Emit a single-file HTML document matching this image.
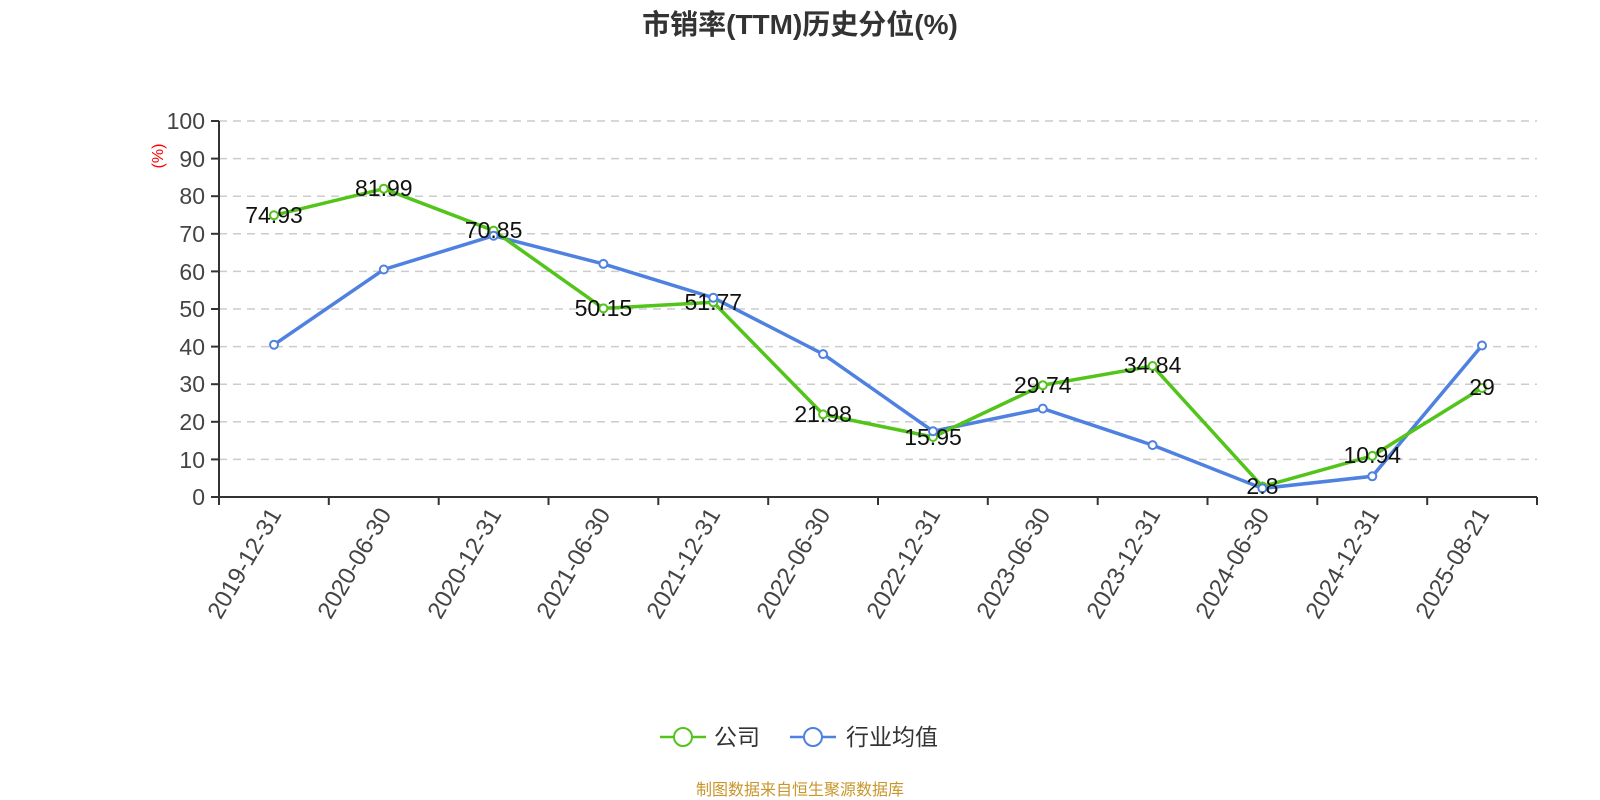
<!DOCTYPE html>
<html><head><meta charset="utf-8"><style>body{margin:0;background:#fff}svg{display:block}</style></head><body>
<svg width="1600" height="800" xmlns="http://www.w3.org/2000/svg" font-family="'Liberation Sans','Noto Sans CJK SC',sans-serif">
<text x="800" y="34" text-anchor="middle" font-size="28" font-weight="bold" fill="#333">市销率(TTM)历史分位(%)</text>
<g stroke="#ccc" stroke-width="1.5" stroke-dasharray="8,6">
<line x1="219" x2="1537" y1="121" y2="121"/><line x1="219" x2="1537" y1="158.6" y2="158.6"/><line x1="219" x2="1537" y1="196.2" y2="196.2"/><line x1="219" x2="1537" y1="233.8" y2="233.8"/><line x1="219" x2="1537" y1="271.4" y2="271.4"/><line x1="219" x2="1537" y1="309" y2="309"/><line x1="219" x2="1537" y1="346.6" y2="346.6"/><line x1="219" x2="1537" y1="384.2" y2="384.2"/><line x1="219" x2="1537" y1="421.8" y2="421.8"/><line x1="219" x2="1537" y1="459.4" y2="459.4"/>
</g>
<g stroke="#333" stroke-width="2">
<line x1="219" y1="121" x2="219" y2="497"/><line x1="219" y1="497" x2="1537" y2="497"/>
</g>
<g stroke="#333" stroke-width="2">
<line x1="211" x2="219" y1="121" y2="121"/><line x1="211" x2="219" y1="158.6" y2="158.6"/><line x1="211" x2="219" y1="196.2" y2="196.2"/><line x1="211" x2="219" y1="233.8" y2="233.8"/><line x1="211" x2="219" y1="271.4" y2="271.4"/><line x1="211" x2="219" y1="309" y2="309"/><line x1="211" x2="219" y1="346.6" y2="346.6"/><line x1="211" x2="219" y1="384.2" y2="384.2"/><line x1="211" x2="219" y1="421.8" y2="421.8"/><line x1="211" x2="219" y1="459.4" y2="459.4"/><line x1="211" x2="219" y1="497" y2="497"/>
</g>
<g font-size="23" fill="#444" text-anchor="end">
<text x="205" y="129">100</text><text x="205" y="167">90</text><text x="205" y="204">80</text><text x="205" y="242">70</text><text x="205" y="280">60</text><text x="205" y="317">50</text><text x="205" y="355">40</text><text x="205" y="392">30</text><text x="205" y="430">20</text><text x="205" y="468">10</text><text x="205" y="505">0</text>
</g>
<text transform="translate(163,156) rotate(-90)" text-anchor="middle" font-size="16" fill="#f00">(%)</text>
<g stroke="#333" stroke-width="2">
<line x1="219" x2="219" y1="497" y2="505"/><line x1="328.8" x2="328.8" y1="497" y2="505"/><line x1="438.7" x2="438.7" y1="497" y2="505"/><line x1="548.5" x2="548.5" y1="497" y2="505"/><line x1="658.3" x2="658.3" y1="497" y2="505"/><line x1="768.2" x2="768.2" y1="497" y2="505"/><line x1="878" x2="878" y1="497" y2="505"/><line x1="987.8" x2="987.8" y1="497" y2="505"/><line x1="1097.7" x2="1097.7" y1="497" y2="505"/><line x1="1207.5" x2="1207.5" y1="497" y2="505"/><line x1="1317.3" x2="1317.3" y1="497" y2="505"/><line x1="1427.2" x2="1427.2" y1="497" y2="505"/><line x1="1537" x2="1537" y1="497" y2="505"/>
</g>
<g font-size="24" fill="#444" text-anchor="end">
<text transform="translate(282,514) rotate(-60)">2019-12-31</text>
<text transform="translate(392,514) rotate(-60)">2020-06-30</text>
<text transform="translate(502,514) rotate(-60)">2020-12-31</text>
<text transform="translate(611,514) rotate(-60)">2021-06-30</text>
<text transform="translate(721,514) rotate(-60)">2021-12-31</text>
<text transform="translate(831,514) rotate(-60)">2022-06-30</text>
<text transform="translate(941,514) rotate(-60)">2022-12-31</text>
<text transform="translate(1051,514) rotate(-60)">2023-06-30</text>
<text transform="translate(1161,514) rotate(-60)">2023-12-31</text>
<text transform="translate(1270,514) rotate(-60)">2024-06-30</text>
<text transform="translate(1380,514) rotate(-60)">2024-12-31</text>
<text transform="translate(1490,514) rotate(-60)">2025-08-21</text>
</g>
<polyline fill="none" stroke="#4f81e0" stroke-width="3.5" points="274,344.7 383.8,269.5 493.6,235.7 603.4,263.9 713.3,297.7 823.1,354.1 933,431.2 1042.8,408.6 1152.6,445.1 1262.4,488.4 1372.3,476.3 1482,345.5"/>
<polyline fill="none" stroke="#52c41a" stroke-width="3.5" points="274,215.3 383.8,188.7 493.6,230.6 603.4,308.4 713.3,302.3 823.1,414.4 933,437 1042.8,385.2 1152.6,366 1262.4,486.5 1372.3,455.9 1482,388"/>
<g fill="#fff" stroke="#52c41a" stroke-width="2">
<circle cx="274" cy="215.3" r="4"/><circle cx="383.8" cy="188.7" r="4"/><circle cx="493.6" cy="230.6" r="4"/><circle cx="603.4" cy="308.4" r="4"/><circle cx="713.3" cy="302.3" r="4"/><circle cx="823.1" cy="414.4" r="4"/><circle cx="933" cy="437" r="4"/><circle cx="1042.8" cy="385.2" r="4"/><circle cx="1152.6" cy="366" r="4"/><circle cx="1262.4" cy="486.5" r="4"/><circle cx="1372.3" cy="455.9" r="4"/><circle cx="1482" cy="388" r="4"/>
</g>
<g fill="#fff" stroke="#4f81e0" stroke-width="2">
<circle cx="274" cy="344.7" r="4"/><circle cx="383.8" cy="269.5" r="4"/><circle cx="493.6" cy="235.7" r="4"/><circle cx="603.4" cy="263.9" r="4"/><circle cx="713.3" cy="297.7" r="4"/><circle cx="823.1" cy="354.1" r="4"/><circle cx="933" cy="431.2" r="4"/><circle cx="1042.8" cy="408.6" r="4"/><circle cx="1152.6" cy="445.1" r="4"/><circle cx="1262.4" cy="488.4" r="4"/><circle cx="1372.3" cy="476.3" r="4"/><circle cx="1482" cy="345.5" r="4"/>
</g>
<g font-size="23" fill="#111" text-anchor="middle">
<text x="274" y="223">74.93</text><text x="383.8" y="196">81.99</text><text x="493.6" y="238">70.85</text><text x="603.4" y="316">50.15</text><text x="713.3" y="310">51.77</text><text x="823.1" y="422">21.98</text><text x="933" y="445">15.95</text><text x="1042.8" y="393">29.74</text><text x="1152.6" y="373">34.84</text><text x="1262.4" y="494">2.8</text><text x="1372.3" y="463">10.94</text><text x="1482" y="395">29</text>
</g>
<g>
<line x1="660" x2="706" y1="737" y2="737" stroke="#52c41a" stroke-width="2.5"/><circle cx="683" cy="737" r="9" fill="#fff" stroke="#52c41a" stroke-width="2"/>
<text x="714" y="745" font-size="23" fill="#333">公司</text>
<line x1="790" x2="836" y1="737" y2="737" stroke="#4f81e0" stroke-width="2.5"/><circle cx="813" cy="737" r="9" fill="#fff" stroke="#4f81e0" stroke-width="2"/>
<text x="846" y="745" font-size="23" fill="#333">行业均值</text>
</g>
<text x="800" y="795" text-anchor="middle" font-size="16" fill="#c8962a">制图数据来自恒生聚源数据库</text>
</svg>
</body></html>
